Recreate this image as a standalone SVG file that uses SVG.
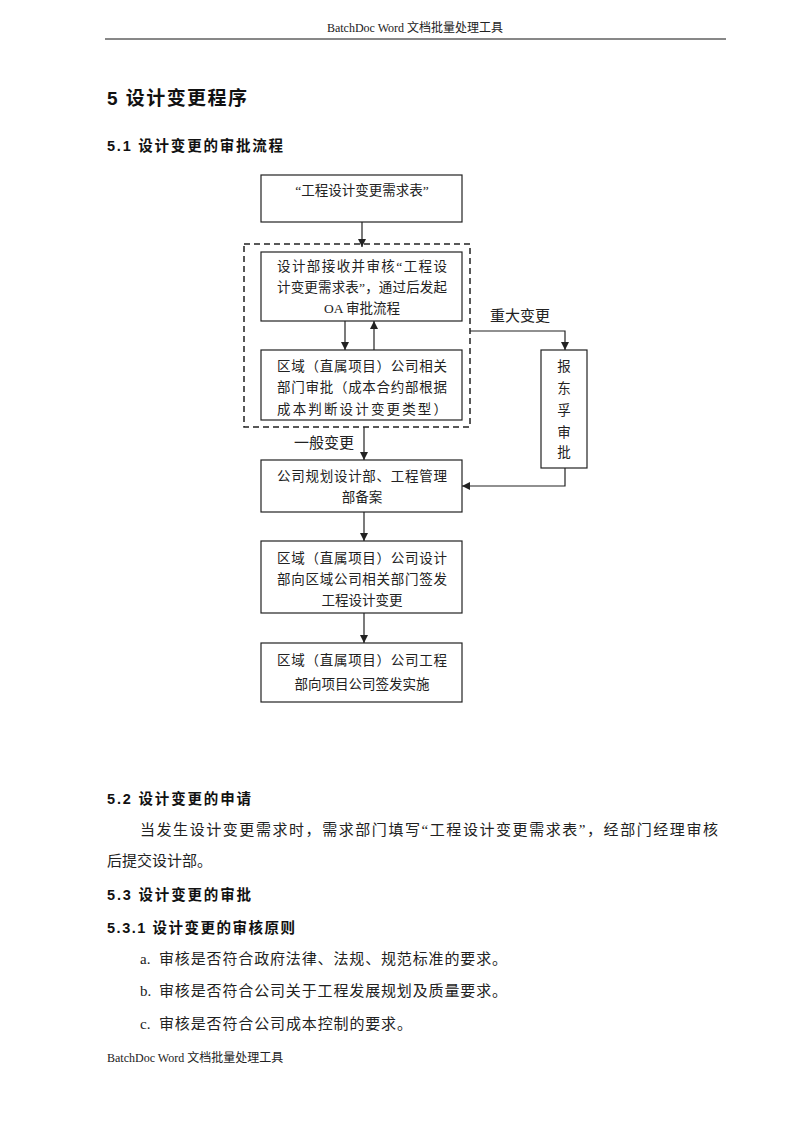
<svg xmlns="http://www.w3.org/2000/svg" width="800" height="1132" viewBox="0 0 800 1132">
<style>
.hdr{font-family:"Liberation Serif","Noto Sans CJK SC",serif;font-size:12px;fill:#222}
.h1{font-family:"Liberation Sans","Noto Sans CJK SC",sans-serif;font-size:19px;font-weight:bold;fill:#111}
.h2{font-family:"Liberation Sans","Noto Sans CJK SC",sans-serif;font-size:14.5px;font-weight:bold;fill:#111}
.body{font-family:"Liberation Serif","Noto Sans CJK SC",serif;font-size:15px;fill:#222}
.box{fill:#fff;stroke:#222;stroke-width:1.2}
.t{font-family:"Liberation Serif","Noto Sans CJK SC",serif;font-size:13.5px;fill:#222;text-anchor:middle}
.ln{fill:none;stroke:#222;stroke-width:1.2}
</style>
<defs>
<marker id="ah" viewBox="0 0 10 10" refX="10" refY="5" markerWidth="8" markerHeight="8" markerUnits="userSpaceOnUse" orient="auto">
<path d="M0,0 L10,5 L0,10 z" fill="#222"/>
</marker>
</defs>
<rect width="800" height="1132" fill="#fff"/>
<text class="hdr" x="415" y="32" text-anchor="middle">BatchDoc Word 文档批量处理工具</text>
<line x1="105" y1="39" x2="726" y2="39" stroke="#111" stroke-width="1"/>
<text class="h1" x="107" y="105" textLength="140">5  设计变更程序</text>
<text class="h2" x="107" y="151" textLength="176">5.1 设计变更的审批流程</text>

<g id="connectors">
<line class="ln" x1="362" y1="222" x2="362" y2="247" marker-end="url(#ah)"/>
<line class="ln" x1="345" y1="321" x2="345" y2="350" marker-end="url(#ah)"/>
<line class="ln" x1="374" y1="350" x2="374" y2="321" marker-end="url(#ah)"/>
<polyline class="ln" points="470,331 565,331 565,350" marker-end="url(#ah)"/>
<polyline class="ln" points="565,468 565,486 462,486" marker-end="url(#ah)"/>
<line class="ln" x1="364" y1="427" x2="364" y2="460" marker-end="url(#ah)"/>
<line class="ln" x1="364" y1="512" x2="364" y2="541" marker-end="url(#ah)"/>
<line class="ln" x1="364" y1="613" x2="364" y2="643" marker-end="url(#ah)"/>
<text class="t" x="520" y="321" style="font-size:15px">重大变更</text>
<text class="t" x="324" y="448" style="font-size:15px">一般变更</text>
</g>

<g id="group-dashed">
<rect x="244" y="244" width="226" height="183" fill="none" stroke="#222" stroke-width="1.5" stroke-dasharray="6,4"/>
</g>

<g id="n1">
<rect class="box" x="261" y="175" width="201" height="47"/>
<text class="t" x="362" y="195">“工程设计变更需求表”</text>
</g>
<g id="n2">
<rect class="box" x="261" y="252" width="201" height="69"/>
<text class="t" x="362" y="271" textLength="170">设计部接收并审核“工程设</text>
<text class="t" x="362" y="292" textLength="170">计变更需求表”，通过后发起</text>
<text class="t" x="362" y="313">OA 审批流程</text>
</g>
<g id="n3">
<rect class="box" x="261" y="350" width="201" height="70"/>
<text class="t" x="362" y="371" textLength="170">区域（直属项目）公司相关</text>
<text class="t" x="362" y="392" textLength="170">部门审批（成本合约部根据</text>
<text class="t" x="362" y="414" textLength="170">成本判断设计变更类型）</text>
</g>
<g id="n-major">
<rect class="box" x="541" y="350" width="46" height="118"/>
<text class="t" x="564" y="371">报</text>
<text class="t" x="564" y="393">东</text>
<text class="t" x="564" y="415">孚</text>
<text class="t" x="564" y="437">审</text>
<text class="t" x="564" y="457">批</text>
</g>
<g id="n4">
<rect class="box" x="261" y="460" width="201" height="52"/>
<text class="t" x="362" y="481" textLength="170">公司规划设计部、工程管理</text>
<text class="t" x="362" y="502">部备案</text>
</g>
<g id="n5">
<rect class="box" x="261" y="541" width="201" height="72"/>
<text class="t" x="362" y="563" textLength="170">区域（直属项目）公司设计</text>
<text class="t" x="362" y="584" textLength="170">部向区域公司相关部门签发</text>
<text class="t" x="362" y="605">工程设计变更</text>
</g>
<g id="n6">
<rect class="box" x="261" y="643" width="201" height="59"/>
<text class="t" x="362" y="665" textLength="170">区域（直属项目）公司工程</text>
<text class="t" x="362" y="689">部向项目公司签发实施</text>
</g>

<text class="h2" x="107" y="804" textLength="144">5.2 设计变更的申请</text>
<text class="body" x="140" y="835" textLength="578">当发生设计变更需求时，需求部门填写“工程设计变更需求表”，经部门经理审核</text>
<text class="body" x="107" y="866">后提交设计部。</text>
<text class="h2" x="107" y="900" textLength="144">5.3 设计变更的审批</text>
<text class="h2" x="107" y="933" textLength="188">5.3.1 设计变更的审核原则</text>
<text class="body" x="140" y="964">a.</text>
<text class="body" x="159" y="964" textLength="348">审核是否符合政府法律、法规、规范标准的要求。</text>
<text class="body" x="140" y="996">b.</text>
<text class="body" x="159" y="996" textLength="348">审核是否符合公司关于工程发展规划及质量要求。</text>
<text class="body" x="140" y="1029">c.</text>
<text class="body" x="159" y="1029" textLength="253">审核是否符合公司成本控制的要求。</text>
<text class="hdr" x="107" y="1062">BatchDoc Word 文档批量处理工具</text>
</svg>
